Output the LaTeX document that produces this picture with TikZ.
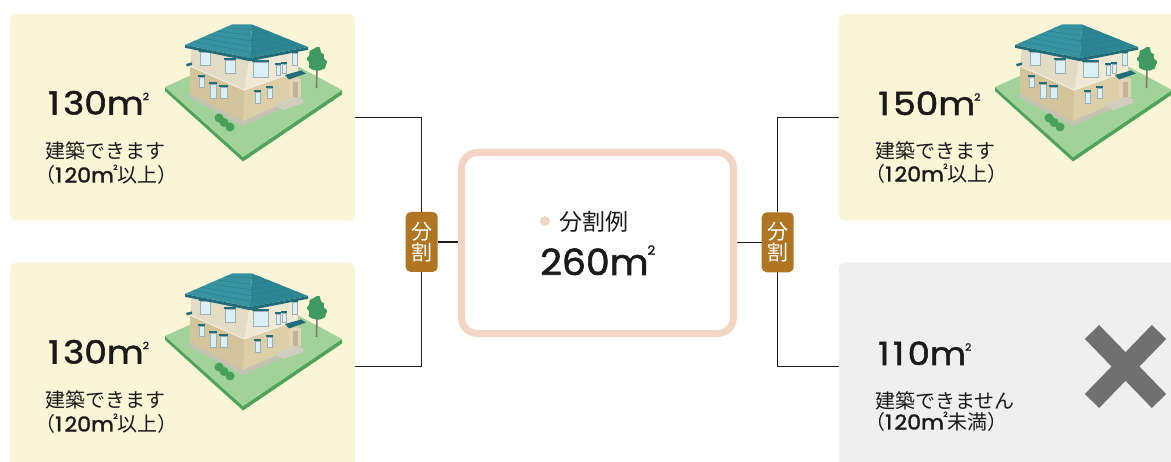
\documentclass[tikz,border=0pt]{standalone}
\usepackage{fontspec}
\usepackage{graphicx}
\setmainfont{Poppins}
\newfontfamily\numfont{Poppins}[RawFeature={embolden=1.6}]
\newfontfamily\jpfont{Noto Sans CJK JP}
\usetikzlibrary{calc,backgrounds}

% palette
\definecolor{cream}{HTML}{FAF5D7}
\definecolor{greybox}{HTML}{EFEFEF}
\definecolor{peach}{HTML}{F3D5C5}
\definecolor{badgebrown}{HTML}{B07523}
\definecolor{inkline}{HTML}{231815}
\definecolor{inktext}{HTML}{1A1A1A}
\definecolor{crossgrey}{HTML}{707070}
\definecolor{lawn}{HTML}{A0D29A}
\definecolor{lawnedge}{HTML}{4FA35B}
\definecolor{treegreen}{HTML}{3E9A5E}
\definecolor{trunk}{HTML}{7C7A6C}
\definecolor{bush}{HTML}{4AA05A}
\definecolor{roofleft}{HTML}{3793A0}
\definecolor{roofright}{HTML}{2C8592}
\definecolor{roofdark}{HTML}{216C78}
\definecolor{roofline}{HTML}{2A7E8A}
\definecolor{upleft}{HTML}{E4DBC4}
\definecolor{upright}{HTML}{EFE8D5}
\definecolor{lowleft}{HTML}{D4C49B}
\definecolor{lowright}{HTML}{DCCEA7}
\definecolor{foundation}{HTML}{C6C2B3}
\definecolor{glass}{HTML}{DAF0F6}
\definecolor{frame}{HTML}{9DB0B5}
\definecolor{porch}{HTML}{E4D3B6}
\definecolor{stepgrey}{HTML}{D2CEBF}

% square-metre sign: m with a small raised 2
\newcommand{\squnit}[2]{m\kern-0.03em\raisebox{#1}{\scalebox{#2}{2}}}
% a slightly widened run of figures
\newcommand{\widefig}[2]{\scalebox{#1}[1]{#2}}
\newcommand{\onegap}{\kern0.1em}
\newcommand{\bignum}{\numfont\fontsize{32}{32}\selectfont}
\newcommand{\jpsize}{\jpfont\fontsize{20}{24}\selectfont}
\newcommand{\numsmall}{\numfont\fontsize{20.5}{24}\selectfont}
\newcommand{\limitline}[1]{{\jpsize\kern-0.5em（}{\numsmall\widefig{1.08}{1\onegap 20\squnit{0.62em}{0.34}}}{\jpsize #1）}}

% a window with its awning
\newcommand{\windowpane}[4]{%
  \filldraw[fill=glass,draw=frame,line width=0.5pt] (#1,#2) rectangle (#3,#4);
  \fill[roofdark] ({#1-1},{#2-2.4}) rectangle ({#3+1},{#2-0.2});}

% the house on its lawn, drawn in the upper-left card's coordinates
\newcommand{\drawhouse}{%
  % lawn
  \fill[lawnedge] (165,87) -- (243,157) -- (342,90) -- (342,94.5) -- (243,161.5) -- (165,91) -- cycle;
  \fill[lawn] (165,87) -- (258,45) -- (342,90) -- (243,157) -- cycle;
  % tree
  \draw[trunk,line width=1.6pt] (316.5,88) -- (317,64);
  \fill[treegreen,rounded corners=1.5pt] (318,46) -- (321,49) -- (320,52) -- (325,55) -- (323,58)
     -- (328,62) -- (325,65) -- (326,68) -- (319,71) -- (313,70) -- (308,67) -- (310,63)
     -- (306,59) -- (310,55) -- (309,51) -- (314,49) -- cycle;
  % foundation
  \fill[foundation] (190,93) -- (243,121) -- (300,96) -- (300,100.5) -- (243,126) -- (190,97.5) -- cycle;
  % walls
  \fill[lowleft] (190,66) -- (244,90) -- (243,121) -- (190,93) -- cycle;
  \fill[lowright] (244,90) -- (298,71) -- (300,96) -- (243,121) -- cycle;
  \fill[upleft] (192,47) -- (249,59) -- (244,90) -- (190,66) -- cycle;
  \fill[upright] (249,59) -- (298,51) -- (298,71) -- (244,90) -- cycle;
  \draw[white!60!upleft,line width=0.9pt] (190,66) -- (244,90) -- (298,71);
  \fill[roofdark] (186,64) -- (192,62.5) -- (192,65) -- (187,66.5) -- cycle;
  % windows
  \windowpane{200}{52}{210}{65}
  \windowpane{225}{60}{235}{73}
  \windowpane{253}{62}{268}{77}
  \windowpane{276}{65}{280}{75}
  \windowpane{282}{64}{286}{73}
  \windowpane{292}{53}{297}{65}
  \windowpane{199}{77}{204}{87}
  \windowpane{210}{84}{216}{98}
  \windowpane{220}{87}{227}{98}
  \windowpane{255}{92}{260}{103}
  \windowpane{267}{88}{272}{98}
  % porch
  \fill[porch] (289,79) rectangle (301,97);
  \fill[porch!85!black] (293,82) rectangle (298,97);
  \fill[roofdark] (285,75) -- (301,70.5) -- (306,73.5) -- (289,79.5) -- cycle;
  \fill[stepgrey] (277,103) -- (296,97) -- (303,99) -- (303,103) -- (284,110) -- (277,107) -- cycle;
  % roof
  \coordinate (EL) at (185,45);
  \coordinate (A1) at (232,24.5);
  \coordinate (A2) at (252,24.5);
  \coordinate (EF) at (250,58);
  \coordinate (ER) at (308,47);
  \fill[roofdark] (EL) -- (EF) -- (ER) -- (308,49.8) -- (250,61.2) -- (185,47.8) -- cycle;
  \fill[roofleft] (EL) -- (A1) -- (A2) -- (EF) -- cycle;
  \fill[roofright] (A2) -- (ER) -- (EF) -- cycle;
  \foreach \t in {0.17,0.34,0.51,0.68,0.85}
    \draw[roofline,line width=0.5pt] ($(EL)!\t!(A1)$) -- ($(EF)!\t!(A2)$) -- ($(ER)!\t!(A2)$);
  % shrubs
  \fill[bush] (219,118) circle (4.5pt) (224,122.5) circle (4.5pt) (230,127) circle (4.5pt);
}

\tikzset{
  card/.style={fill=cream,rounded corners=6pt,inner sep=0,minimum width=#1},
  greycard/.style={fill=greybox,rounded corners=6pt,inner sep=0,minimum width=#1},
  hub/.style={draw=peach,line width=7pt,fill=white,rounded corners=16pt,
    minimum width=272pt,minimum height=181pt,inner sep=0},
  splitbadge/.style={fill=badgebrown,rounded corners=5pt,minimum width=32pt,minimum height=60pt,
    inner sep=0,text=white,align=center,font=\jpfont\fontsize{21}{21.5}\selectfont},
  conn/.style={draw=inkline,line width=1.4pt},
  txt/.style={anchor=base west,inner sep=0,text=inktext},
}

\begin{document}
\begin{tikzpicture}[x=1pt,y=-1pt]
\useasboundingbox (0,0) rectangle (1171,462);
\clip (0,0) rectangle (1171,462);

% cards
\node[card=345pt,minimum height=206.7pt] (tl) at (182.5,117.35) {};
\node[card=345pt,minimum height=207pt] (bl) at (182.5,366.5) {};
\node[card=341pt,minimum height=206.7pt] (tr) at (1009.5,117.35) {};
\node[greycard=341pt,minimum height=207pt] (br) at (1009.5,366.5) {};

% central plot
\node[hub] (plot) at (597.5,243) {};

% split markers
\node[splitbadge] (lsplit) at (421.7,242) {分\\割};
\node[splitbadge] (rsplit) at (777.7,242.3) {分\\割};

% connectors
\begin{scope}[on background layer]
  \fill[white] (0,0) rectangle (1171,462);
  \draw[conn] (tl.east) -| (lsplit.north);
  \draw[conn] (bl.east) -| (lsplit.south);
  \draw[conn] (lsplit.east) -- (lsplit.east -| plot.west);
  \draw[conn] (tr.west) -| (rsplit.north);
  \draw[conn] (br.west) -| (rsplit.south);
  \draw[conn] (rsplit.west) -- (rsplit.west -| plot.east);
\end{scope}

% houses
\drawhouse
\begin{scope}[shift={(0,249)}]\drawhouse\end{scope}
\begin{scope}[shift={(830,0)}]\drawhouse\end{scope}

% central label
\fill[peach] (545,221) circle (5pt);
\node[txt,font=\jpfont\fontsize{23}{23}\selectfont] (plotcap) at (559,230.5) {分割例};
\node[txt,font=\numfont\fontsize{36}{36}\selectfont] (plotarea) at (540,275) {\widefig{1.05}{260\squnit{0.56em}{0.36}}};

% upper-left card
\node[txt,font=\bignum] (tlarea) at (48,114.5) {\widefig{1.12}{1\onegap 30\squnit{0.45em}{0.31}}};
\node[txt,font=\jpsize] (tlnote) at (45,159) {建築できます};
\node[txt] (tlcond) at (45,182.5) {\limitline{以上}};

% lower-left card
\node[txt,font=\bignum] (blarea) at (48,363.5) {\widefig{1.12}{1\onegap 30\squnit{0.45em}{0.31}}};
\node[txt,font=\jpsize] (blnote) at (45,408) {建築できます};
\node[txt] (blcond) at (45,431.5) {\limitline{以上}};

% upper-right card
\node[txt,font=\bignum] (trarea) at (878,115) {\widefig{1.12}{1\onegap 50\squnit{0.45em}{0.31}}};
\node[txt,font=\jpsize] (trnote) at (875,158.5) {建築できます};
\node[txt] (trcond) at (875,181.5) {\limitline{以上}};

% lower-right card
\node[txt,font=\bignum] (brarea) at (878,365) {\widefig{1.1}{1\onegap 1\onegap 0\squnit{0.45em}{0.31}}};
\node[txt,font=\jpsize] (brnote) at (875,408.5) {建築できません};
\node[txt] (brcond) at (875,429.5) {\limitline{未満}};

% refusal cross
\draw[crossgrey,line width=20pt,line cap=butt] (1092,332) -- (1159,401) (1159,332) -- (1092,401);
\end{tikzpicture}
\end{document}
